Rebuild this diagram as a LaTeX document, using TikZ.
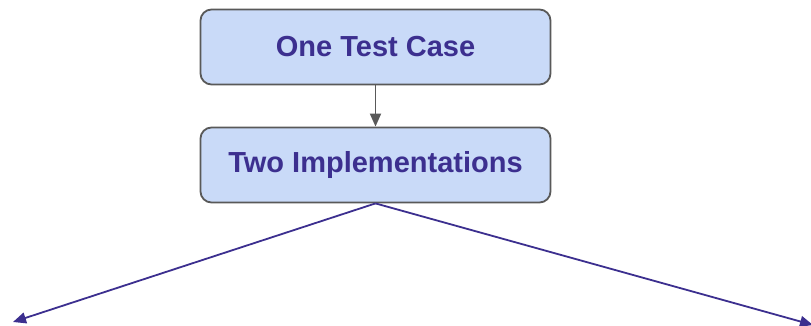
\documentclass[tikz,border=0pt]{standalone}
\usepackage{fontspec}
\setmainfont{Liberation Sans}
\usetikzlibrary{arrows.meta}
\definecolor{boxfill}{HTML}{C9DAF8}
\definecolor{boxline}{HTML}{595959}
\definecolor{ink}{HTML}{3C2F8F}
\tikzset{
  stepbox/.style={draw=boxline,line width=1.8pt,fill=boxfill,rounded corners=11pt,
    minimum width=350pt,minimum height=75pt,text=ink,font=\fontsize{29}{34}\selectfont\bfseries},
  flow/.style={line width=1.8pt,-{Triangle[length=13pt,width=11pt]}}
}
\begin{document}
\begin{tikzpicture}[x=1pt,y=1pt]
\useasboundingbox (0,0) rectangle (811,-326);
\node[stepbox] (testcase) at (375.5,-47) {One Test Case};
\node[stepbox] (impls) at (375.5,-165) {Two Implementations};
\coordinate (leftend) at (13,-322);
\coordinate (rightend) at (813,-325);
\draw[flow,draw=boxline,fill=boxline] (testcase) -- (impls);
\draw[flow,draw=ink,fill=ink] (impls.south) -- (leftend);
\draw[flow,draw=ink,fill=ink] (impls.south) -- (rightend);
\end{tikzpicture}
\end{document}
